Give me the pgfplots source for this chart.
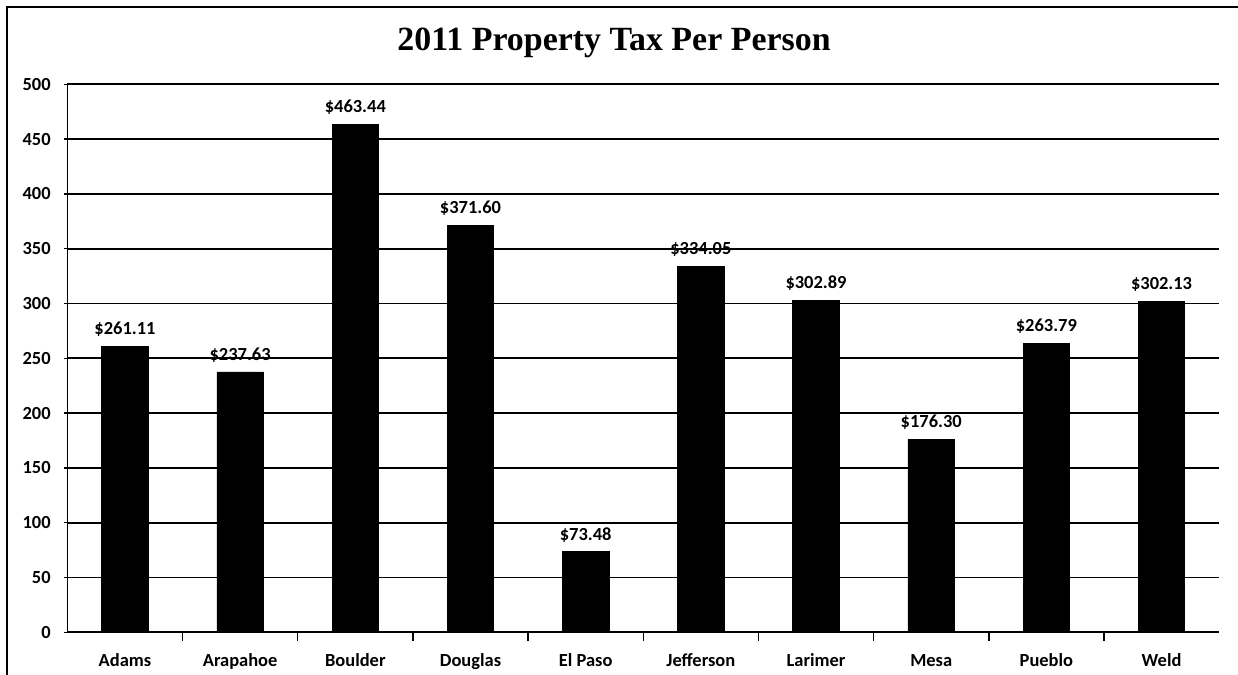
\documentclass[border=0pt]{standalone}
\usepackage{pgfplots}
\pgfplotsset{compat=1.18}
\usepackage{fontspec}
\setmainfont{Carlito}
\newfontfamily\titlefont{Liberation Serif}

% 1 px of the reference = 0.02cm
\begin{document}
\begin{tikzpicture}[x=0.02cm,y=0.02cm]
  \useasboundingbox (0,0) rectangle (1238,675);
  % chart frame (top and left edges visible)
  \draw[line width=1pt] (7,0) -- (7,668) -- (1238,668);
  \node[font=\titlefont\bfseries\fontsize{19.3}{22}\selectfont] at (614,632) {2011 Property Tax Per Person};

  \begin{axis}[
    at={(58.5,39)}, anchor=south west,
    scale only axis,
    width=23.04cm, height=10.96cm,
    ymin=0, ymax=500,
    xmin=-0.5, xmax=9.5,
    ytick={0,50,...,500},
    xtick={0,...,9},
    xticklabels={Adams,Arapahoe,Boulder,Douglas,El Paso,Jefferson,Larimer,Mesa,Pueblo,Weld},
    minor xtick={0.5,1.5,...,8.5},
    major x tick style={draw=none},
    minor tick length=5pt,
    major tick length=4pt,
    tick align=outside,
    tick style={black, line width=0.8pt},
    axis x line=bottom, axis y line=left,
    axis line style={-, line width=1pt},
    ymajorgrids,
    grid style={black, line width=1.1pt},
    ticklabel style={font=\bfseries\fontsize{10.5}{12}\selectfont},
    yticklabel style={xshift=-4pt},
    xticklabel style={yshift=-4.5pt, text height=1.6ex, text depth=0.4ex},
    /pgf/number format/assume math mode=true,
    ybar, bar width=0.93cm,
    nodes near coords={\$\pgfmathprintnumber[fixed,fixed zerofill,precision=2]{\pgfplotspointmeta}},
    every node near coord/.append style={font=\bfseries\fontsize{10.5}{12}\selectfont, yshift=2pt},
    clip=false,
  ]
    \addplot[fill=black, draw=black] coordinates {
      (0,261.11) (1,237.63) (2,463.44) (3,371.60) (4,73.48)
      (5,334.05) (6,302.89) (7,176.30) (8,263.79) (9,302.13)
    };
  \end{axis}
\end{tikzpicture}
\end{document}
